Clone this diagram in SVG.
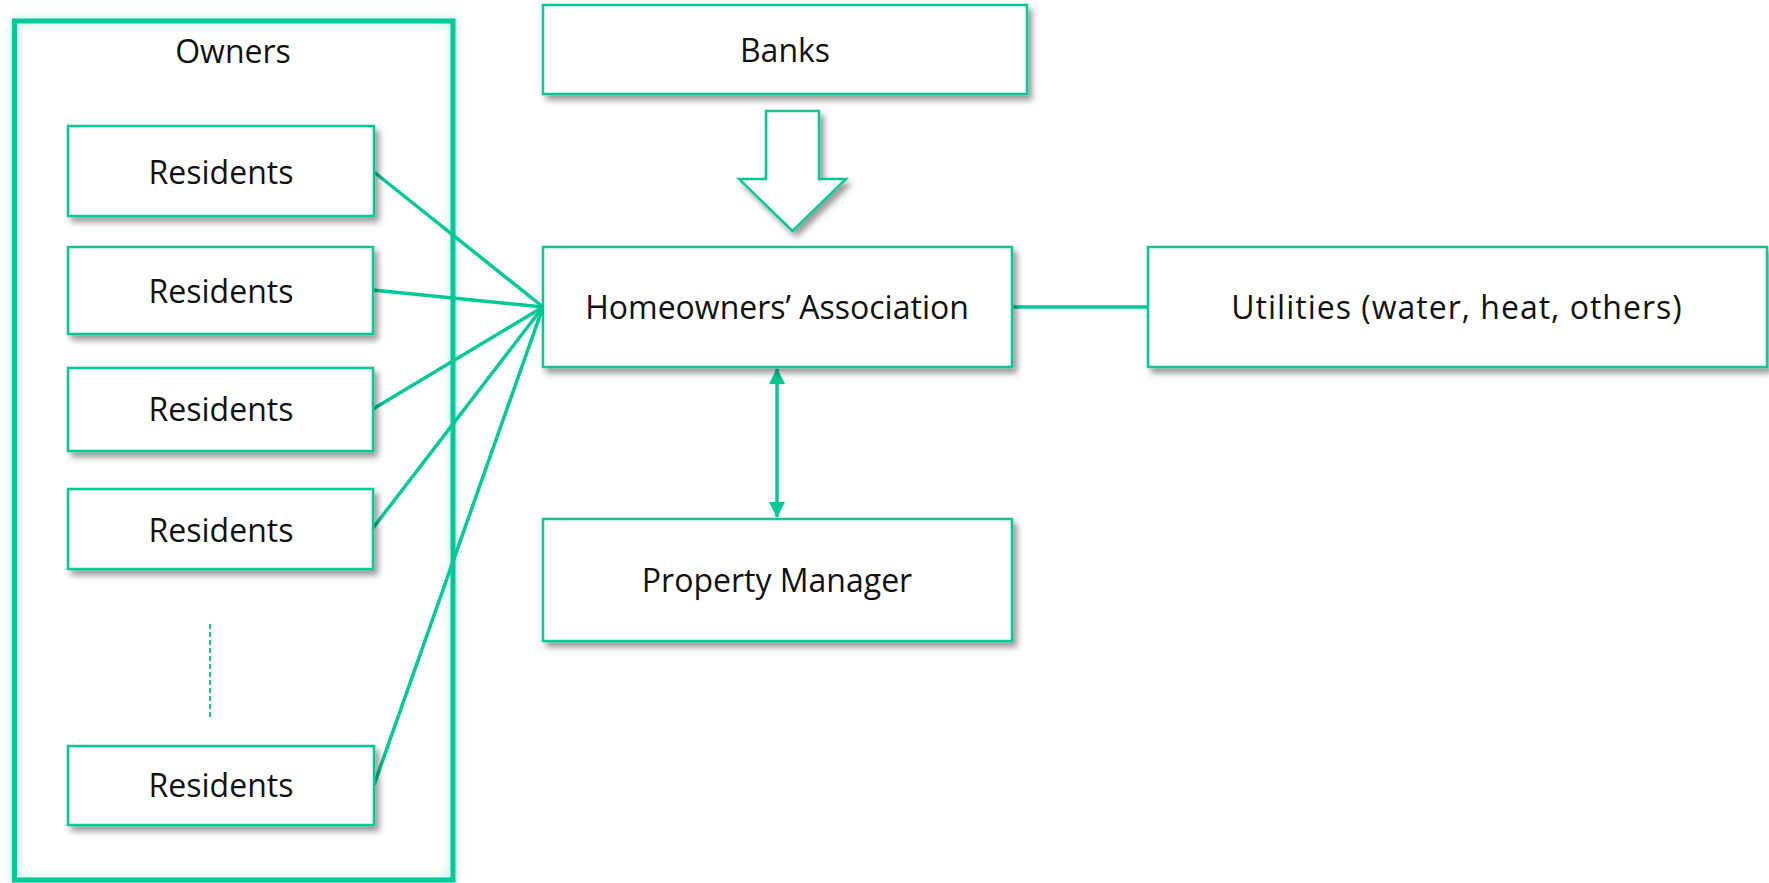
<svg xmlns="http://www.w3.org/2000/svg" width="1769" height="883" viewBox="0 0 1769 883">
  <defs>
    <filter id="shadow" x="-10%" y="-20%" width="130%" height="160%">
      <feDropShadow dx="4" dy="5" stdDeviation="3" flood-color="#000" flood-opacity="0.4"/>
    </filter>
    <filter id="glow" x="-10%" y="-5%" width="120%" height="110%">
      <feGaussianBlur in="SourceAlpha" stdDeviation="5" result="b"/>
      <feFlood flood-color="#00C897" flood-opacity="0.35"/>
      <feComposite in2="b" operator="in" result="g"/>
      <feMerge><feMergeNode in="g"/><feMergeNode in="SourceGraphic"/></feMerge>
    </filter>
    <marker id="ah" viewBox="0 0 16 16" refX="15" refY="8" markerWidth="16" markerHeight="16" markerUnits="userSpaceOnUse" orient="auto-start-reverse">
      <path d="M0,0 L16,8 L0,16 Z" fill="#00C897"/>
    </marker>
  </defs>
  <style>
    .box { fill: #FFFFFF; stroke: #00C897; stroke-width: 2.5; filter: url(#shadow); }
    .lbl { font-family: "Open Sans", "Noto Sans", "Liberation Sans", sans-serif; font-size: 32px; fill: #111111; text-anchor: middle; }
    .conn { stroke: #00C897; stroke-width: 3.5; fill: none; }
  </style>
  <rect width="1769" height="883" fill="#FFFFFF"/>

  <g id="owners">
    <rect x="14.5" y="21" width="438.5" height="859" fill="none" stroke="#00C897" stroke-width="5" filter="url(#glow)"/>
    <text class="lbl" x="233" y="63">Owners</text>
    <line x1="210" y1="624" x2="210" y2="717" stroke="#00C897" stroke-width="2" stroke-dasharray="5,3"/>
  </g>

  <g id="connectors">
    <line class="conn" x1="374" y1="172" x2="543" y2="307"/>
    <line class="conn" x1="373" y1="290" x2="543" y2="307"/>
    <line class="conn" x1="373" y1="409" x2="543" y2="307"/>
    <line class="conn" x1="373" y1="528" x2="543" y2="307"/>
    <line class="conn" x1="374" y1="785" x2="543" y2="307"/>
    <line class="conn" x1="1012" y1="307" x2="1148" y2="307"/>
    <line class="conn" x1="777" y1="369" x2="777" y2="517" marker-start="url(#ah)" marker-end="url(#ah)"/>
  </g>

  <g id="residents1">
    <rect class="box" x="68" y="126" width="306" height="90"/>
    <text class="lbl" x="221" y="184">Residents</text>
  </g>
  <g id="residents2">
    <rect class="box" x="68" y="247" width="305" height="87"/>
    <text class="lbl" x="221" y="303">Residents</text>
  </g>
  <g id="residents3">
    <rect class="box" x="68" y="368" width="305" height="83"/>
    <text class="lbl" x="221" y="421">Residents</text>
  </g>
  <g id="residents4">
    <rect class="box" x="68" y="489" width="305" height="80"/>
    <text class="lbl" x="221" y="542">Residents</text>
  </g>
  <g id="residents5">
    <rect class="box" x="68" y="746" width="306" height="79"/>
    <text class="lbl" x="221" y="797">Residents</text>
  </g>

  <g id="banks">
    <rect class="box" x="543" y="5" width="484" height="89"/>
    <text class="lbl" x="785" y="62">Banks</text>
  </g>

  <g id="banks-arrow">
    <polygon class="box" points="766,111 819,111 819,179 846,179 792.5,231 739,179 766,179"/>
  </g>

  <g id="hoa">
    <rect class="box" x="543" y="247" width="469" height="120"/>
    <text class="lbl" x="777" y="319">Homeowners’ Association</text>
  </g>

  <g id="utilities">
    <rect class="box" x="1148" y="247" width="619" height="120"/>
    <text class="lbl" x="1457" y="319" letter-spacing="1">Utilities (water, heat, others)</text>
  </g>

  <g id="property-manager">
    <rect class="box" x="543" y="519" width="469" height="122"/>
    <text class="lbl" x="777" y="592">Property Manager</text>
  </g>
</svg>
